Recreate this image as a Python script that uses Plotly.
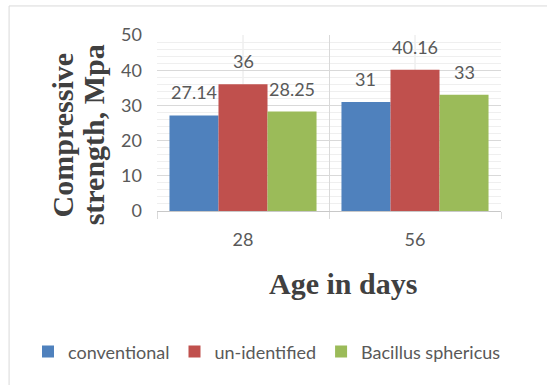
import plotly.graph_objects as go

categories = ["28", "56"]
conventional = [27.14, 31]
unidentified = [36, 40.16]
bacillus = [28.25, 33]
series_names = ["conventional", "un-identified", "Bacillus sphericus"]
colors = ["#4f81bd", "#c0504d", "#9bbb59"]

TXT = "#595959"
TITLE_CLR = "#404040"
LBL_FONT = "Lato"
BARGAP = 0.145

series = [conventional, unidentified, bacillus]

fig = go.Figure()
for name, vals, col in zip(series_names, series, colors):
    fig.add_trace(go.Bar(
        name=name, x=categories, y=vals, marker=dict(color=col, line=dict(width=0)),
    ))

# data labels, placed above each bar through the axis scales
n = len(series)
bw = (1 - BARGAP) / n
for j, vals in enumerate(series):
    for i, v in enumerate(vals):
        fig.add_annotation(
            x=i + (j - (n - 1) / 2) * bw, y=v, xref="x", yref="y",
            text=f"{v:g}", showarrow=False, yanchor="middle", yshift=23,
            font=dict(family=LBL_FONT, size=18, color=TXT),
        )

fig.update_layout(
    width=547, height=385,
    margin=dict(l=157, r=46, t=35, b=174),
    paper_bgcolor="white", plot_bgcolor="white",
    barmode="group", bargap=BARGAP, bargroupgap=0,
    showlegend=True,
    legend=dict(orientation="h", x=-0.375, xanchor="left", y=-0.80, yanchor="middle",
                font=dict(family=LBL_FONT, size=18, color=TXT),
                itemwidth=30, tracegroupgap=0),
)

fig.update_yaxes(
    range=[0, 50], dtick=10, showgrid=True, gridcolor="#d9d9d9", gridwidth=1,
    minor=dict(dtick=2, showgrid=True, gridcolor="#efefef", gridwidth=1),
    zeroline=False, showline=False, ticks="",
    ticklabelstandoff=14,
    tickfont=dict(family=LBL_FONT, size=18, color=TXT),
)

fig.update_xaxes(
    type="category", tickson="boundaries", ticks="outside", ticklen=7, tickcolor="#d9d9d9",
    showgrid=True, gridcolor="#d9d9d9", gridwidth=1,
    showline=True, linecolor="#c8c8c8", linewidth=1,
    ticklabelstandoff=12, tickangle=0,
    tickfont=dict(family=LBL_FONT, size=18, color=TXT),
)

# axis titles
title_font = dict(family="Liberation Serif", size=30, color=TITLE_CLR, weight="bold")
fig.add_annotation(text="Compressive", xref="paper", yref="paper", x=-0.276, y=0.43,
                   textangle=-90, showarrow=False, xanchor="center", yanchor="middle",
                   font=title_font)
fig.add_annotation(text="strength, Mpa", xref="paper", yref="paper", x=-0.186, y=0.43,
                   textangle=-90, showarrow=False, xanchor="center", yanchor="middle",
                   font=title_font)
fig.add_annotation(text="Age in days", xref="paper", yref="paper", x=0.54, y=-0.41,
                   showarrow=False, xanchor="center", yanchor="middle", font=title_font)

# vertical gridlines at category centres (category index positions)
for i in range(len(categories)):
    fig.add_shape(type="line", xref="x", yref="paper", x0=i, x1=i, y0=0, y1=1,
                  line=dict(color="#e6e6e6", width=1), layer="below")

# outer chart frame
fig.add_shape(type="rect", xref="paper", yref="paper", x0=-0.43, x1=1.3, y0=-1.2, y1=1.165,
              line=dict(color="#d9d9d9", width=1), layer="below")

fig.write_html("out.html")
